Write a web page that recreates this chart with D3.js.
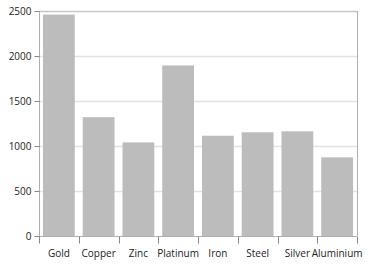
<!DOCTYPE html>
<html>
<head>
<meta charset="utf-8">
<script src="https://cdn.jsdelivr.net/npm/d3@7"></script>
<style>
  body { margin: 0; background: #fff; }
  text { font-family: "Segoe UI", "Open Sans", sans-serif; font-size: 10px; fill: #222; }
</style>
</head>
<body>
<script>
var metals = ["Gold", "Copper", "Zinc", "Platinum", "Iron", "Steel", "Silver", "Aluminium"];
var amounts = [2460, 1320, 1040, 1895, 1114, 1152, 1163, 874];
var yTicks = [0, 500, 1000, 1500, 2000, 2500];

var margin = {top: 11, right: 14, bottom: 31, left: 39},
    width = 371 - margin.left - margin.right,
    height = 267 - margin.top - margin.bottom;

var svg = d3.select("body").append("svg")
    .attr("width", 371)
    .attr("height", 267);

var g = svg.append("g")
    .attr("transform", "translate(" + margin.left + "," + margin.top + ")");

var x = d3.scaleBand()
    .domain(metals)
    .range([0, width])
    .paddingInner(0.2)
    .paddingOuter(0.1);

var y = d3.scaleLinear()
    .domain([0, 2500])
    .range([height, 0]);

// gridlines
g.selectAll(".grid")
    .data(yTicks.slice(1))
    .enter()
    .append("line")
    .attr("x1", 0)
    .attr("x2", width)
    .attr("y1", function(d) { return Math.round(y(d)) + 0.5; })
    .attr("y2", function(d) { return Math.round(y(d)) + 0.5; })
    .attr("stroke", function(d) { return d == 2500 ? "#c8c8c8" : "#e3e3e3"; })
    .attr("stroke-width", 1.5);

// right border
g.append("line")
    .attr("x1", width + 0.5).attr("x2", width + 0.5)
    .attr("y1", 0).attr("y2", height)
    .attr("stroke", "#b0b0b0");

g.selectAll(".bar")
    .data(amounts)
    .enter()
    .append("rect")
    .attr("x", function(d, i) { return x(metals[i]); })
    .attr("y", function(d) { return y(d); })
    .attr("width", x.bandwidth())
    .attr("height", function(d) { return height - y(d); })
    .attr("fill", "#bcbcbc");

var yAxis = d3.axisLeft(y).tickValues(yTicks).tickFormat(d3.format("d")).tickSize(5).tickPadding(3);
var ya = g.append("g").attr("transform", "translate(0.5,0)").call(yAxis);
ya.select(".domain").attr("stroke", "#b0b0b0").attr("d", "M0,0V" + height);
ya.selectAll(".tick line").attr("stroke", "#888");
ya.selectAll("text").style("font-size", "10px").attr("fill", "#222");

// x axis: ticks at band boundaries
var xa = g.append("g").attr("transform", "translate(0," + (height + 0.5) + ")");
xa.append("line")
    .attr("x1", 0).attr("x2", width)
    .attr("stroke", "#b0b0b0");
var edges = metals.map(function(m) { return x(m) - x.step() * x.paddingInner() / 2; });
edges.push(width);
xa.selectAll(".edge")
    .data(edges)
    .enter()
    .append("line")
    .attr("x1", function(d) { return Math.round(d) + 0.5; })
    .attr("x2", function(d) { return Math.round(d) + 0.5; })
    .attr("y1", 0).attr("y2", 7)
    .attr("stroke", "#888");
xa.selectAll(".lbl")
    .data(metals)
    .enter()
    .append("text")
    .attr("x", function(d) { return x(d) + x.bandwidth() / 2; })
    .attr("y", 17)
    .attr("dy", "0.32em")
    .attr("text-anchor", "middle")
    .text(function(d) { return d; });
</script>
</body>
</html>
